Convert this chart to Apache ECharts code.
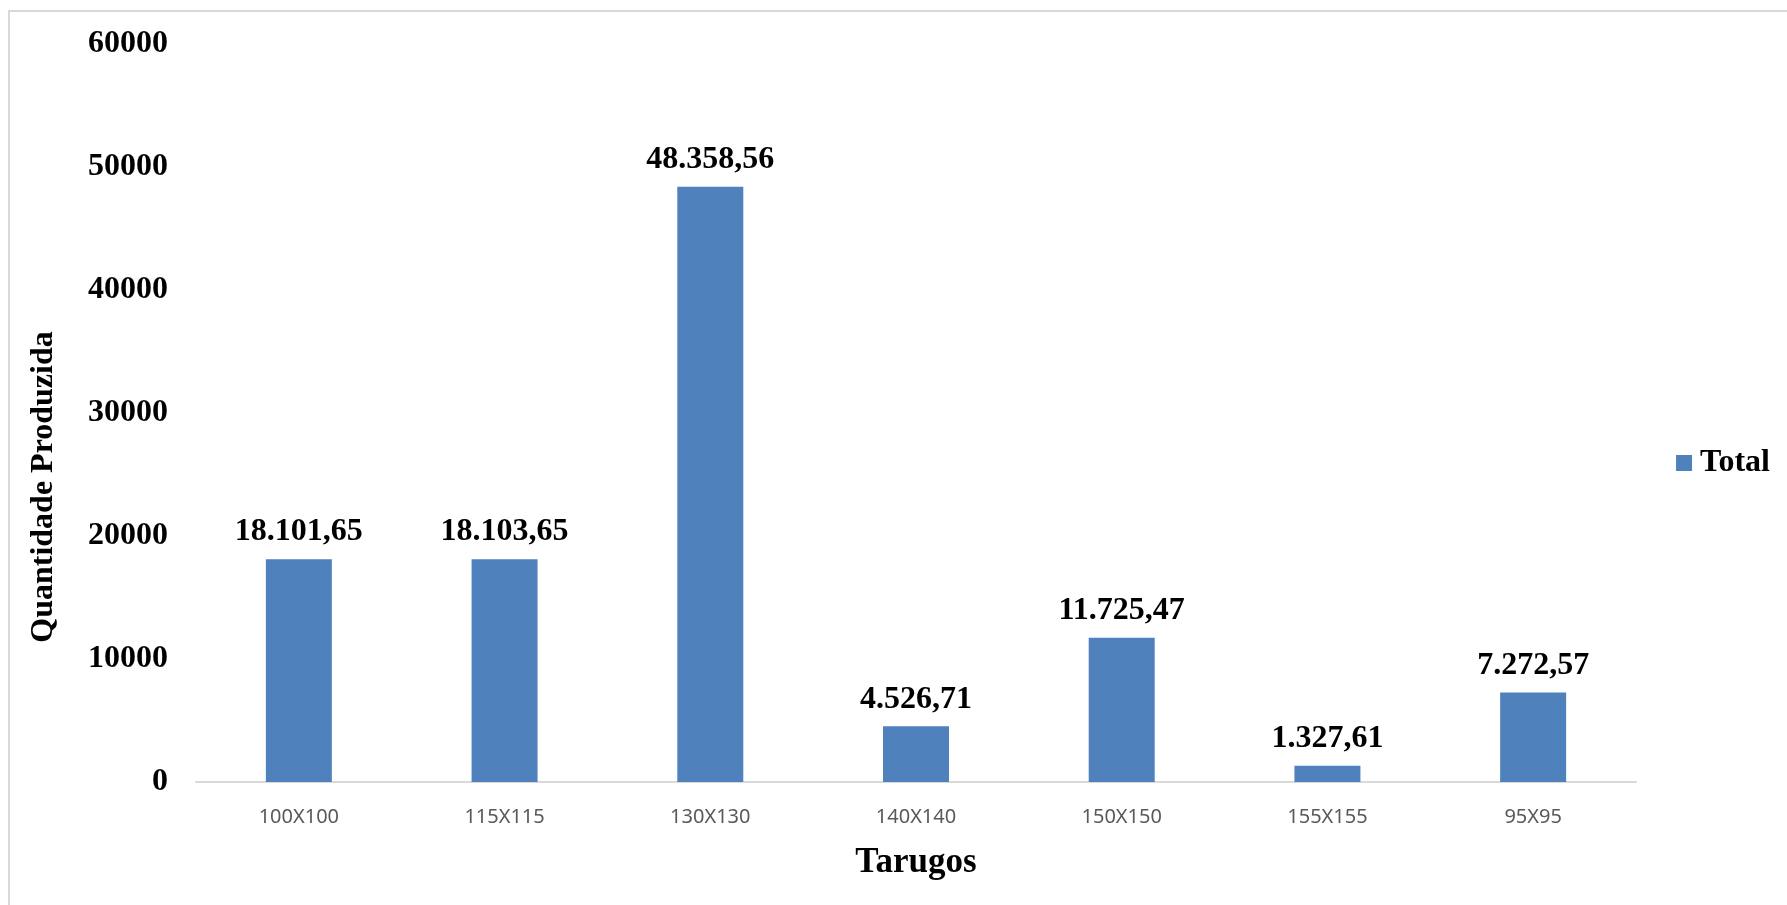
<!DOCTYPE html>
<html>
<head>
<meta charset="utf-8">
<script src="https://cdn.jsdelivr.net/npm/echarts@6/dist/echarts.min.js"></script>
<style>
  html, body { margin: 0; padding: 0; background: #fff; }
  #chart { width: 1787px; height: 905px; }
</style>
</head>
<body>
<div id="chart"></div>
<script>
// Billet sizes and produced quantity
const categories = ['100X100', '115X115', '130X130', '140X140', '150X150', '155X155', '95X95'];
const totals = [18101.65, 18103.65, 48358.56, 4526.71, 11725.47, 1327.61, 7272.57];
const yTicks = [0, 10000, 20000, 30000, 40000, 50000, 60000];

const serif = '"Liberation Serif", "Times New Roman", serif';

// pt-BR style number: 48.358,56
function formatBR(v) {
  const parts = v.toFixed(2).split('.');
  const intPart = parts[0].replace(/\B(?=(\d{3})+(?!\d))/g, '.');
  return intPart + ',' + parts[1];
}

const chart = echarts.init(document.getElementById('chart'));
chart.setOption({
  animation: false,
  backgroundColor: '#ffffff',
  grid: { left: 196, right: 151, top: 43.5, bottom: 123, containLabel: false },
  legend: {
    data: ['Total'],
    right: 12,
    top: 442,
    orient: 'vertical',
    icon: 'rect',
    itemWidth: 16,
    itemHeight: 16,
    itemGap: 8,
    textStyle: { fontFamily: serif, fontWeight: 'bold', fontSize: 32, color: '#000', padding: [0, 0, 0, 3] }
  },
  xAxis: {
    type: 'category',
    data: categories,
    name: 'Tarugos',
    nameLocation: 'middle',
    nameGap: 63,
    nameTextStyle: { fontFamily: serif, fontWeight: 'bold', fontSize: 35, color: '#000' },
    axisLine: { lineStyle: { color: '#d9d9d9', width: 2 } },
    axisTick: { show: false },
    axisLabel: { fontFamily: '"Noto Sans", "Open Sans", sans-serif', fontSize: 20, color: '#595959', margin: 25 }
  },
  yAxis: {
    type: 'value',
    min: 0,
    max: 60000,
    interval: 10000,
    axisLine: { show: false },
    axisTick: { show: false },
    splitLine: { show: false },
    axisLabel: {
      fontFamily: serif, fontWeight: 'bold', fontSize: 32, color: '#000', margin: 28,
      formatter: v => yTicks.includes(v) ? String(v) : ''
    }
  },
  series: [{
    name: 'Total',
    type: 'bar',
    data: totals,
    barWidth: 66,
    itemStyle: { color: '#4f81bd' },
    label: {
      show: true,
      position: 'top',
      distance: 11,
      fontFamily: serif,
      fontWeight: 'bold',
      fontSize: 32,
      color: '#000',
      formatter: p => formatBR(p.value)
    }
  }],
  graphic: [
    {
      type: 'rect',
      shape: { x: 9, y: 11, width: 1800, height: 920 },
      style: { fill: 'none', stroke: '#d9d9d9', lineWidth: 2 },
      silent: true
    },
    {
      type: 'text',
      x: 44,
      y: 487,
      rotation: Math.PI / 2,
      style: {
        text: 'Quantidade Produzida',
        font: 'bold 32px ' + serif,
        fill: '#000',
        align: 'center',
        verticalAlign: 'middle'
      }
    }
  ]
});
</script>
</body>
</html>
